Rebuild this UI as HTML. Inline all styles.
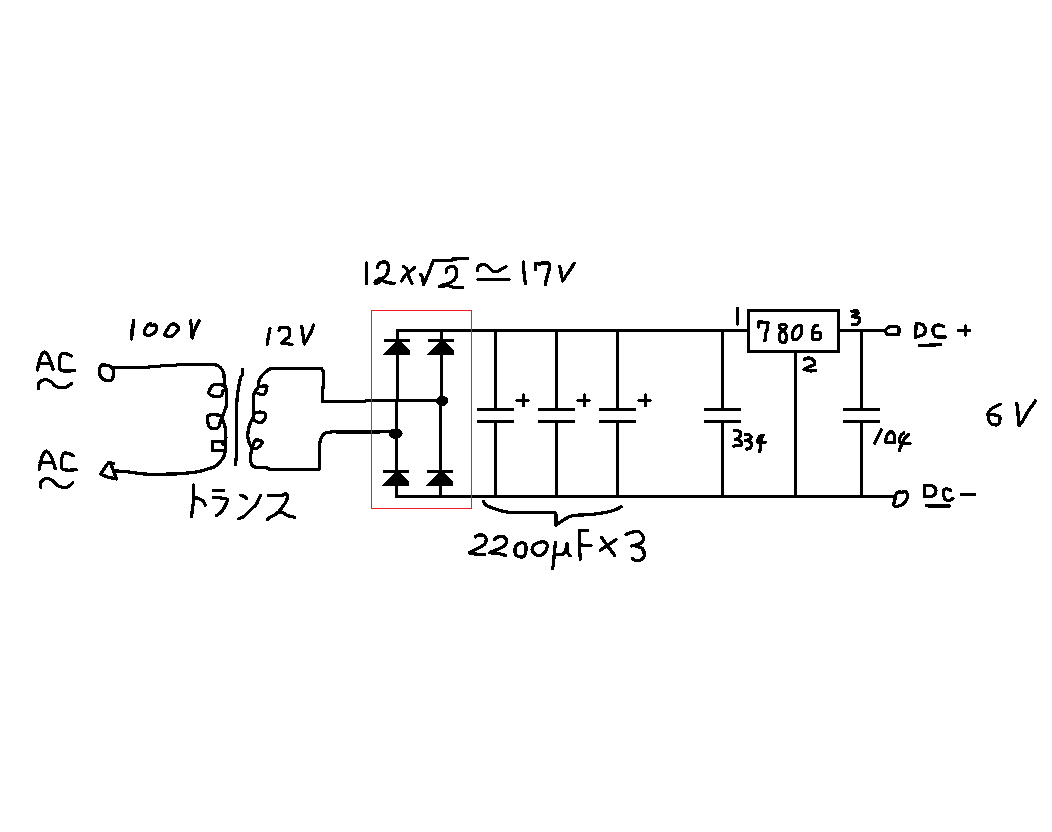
<!DOCTYPE html><html><head><meta charset="utf-8"><title>circuit</title><style>html,body{margin:0;padding:0;background:#fff;}body{width:1052px;height:832px;overflow:hidden;font-family:"Liberation Sans",sans-serif;}svg{display:block;}</style></head><body>
<svg width="1052" height="832" viewBox="0 0 1052 832" shape-rendering="crispEdges">
<rect width="1052" height="832" fill="#fff"/>
<g fill="none" stroke="#000" stroke-linecap="butt" stroke-linejoin="miter">
<path d="M397.5,340 V330.5 H747" stroke-width="3" />
<path d="M441.5,330.5 V340" stroke-width="3" />
<path d="M397.5,350 V401" stroke-width="3" />
<path d="M396.5,400 V470" stroke-width="3" />
<path d="M441.5,350 V401" stroke-width="3" />
<path d="M440.5,400 V470" stroke-width="3" />
<path d="M396.5,484 V496.5 H893" stroke-width="3" />
<path d="M440.5,484 V496.5" stroke-width="3" />
<path d="M495.5,330.5 V409.5" stroke-width="3" />
<path d="M495.5,421.5 V496.5" stroke-width="3" />
<path d="M477,409.5 H514" stroke-width="3" />
<path d="M477,421.5 H514" stroke-width="3" />
<path d="M556.5,330.5 V409.5" stroke-width="3" />
<path d="M556.5,421.5 V496.5" stroke-width="3" />
<path d="M538,409.5 H575" stroke-width="3" />
<path d="M538,421.5 H575" stroke-width="3" />
<path d="M617.5,330.5 V409.5" stroke-width="3" />
<path d="M617.5,421.5 V496.5" stroke-width="3" />
<path d="M599,409.5 H636" stroke-width="3" />
<path d="M599,421.5 H636" stroke-width="3" />
<path d="M722.5,330.5 V409.5" stroke-width="3" />
<path d="M722.5,421.5 V496.5" stroke-width="3" />
<path d="M704,409.5 H741" stroke-width="3" />
<path d="M704,421.5 H741" stroke-width="3" />
<path d="M861.5,330.5 V409.5" stroke-width="3" />
<path d="M861.5,421.5 V496.5" stroke-width="3" />
<path d="M843,409.5 H880" stroke-width="3" />
<path d="M843,421.5 H880" stroke-width="3" />
<path d="M516.7,400.5 H528.3" stroke-width="3" stroke-linecap="round"/>
<path d="M523.5,394.8 V405.5" stroke-width="3" stroke-linecap="round"/>
<path d="M577.7,400.5 H589.3" stroke-width="3" stroke-linecap="round"/>
<path d="M584.5,394.8 V405.5" stroke-width="3" stroke-linecap="round"/>
<path d="M638.7,400.5 H650.3" stroke-width="3" stroke-linecap="round"/>
<path d="M645.5,394.8 V405.5" stroke-width="3" stroke-linecap="round"/>
<path d="M748.5,310.5 H838.5 V351.5 H748.5 Z" stroke-width="3" />
<path d="M795.5,351.5 V496.5" stroke-width="3" />
<path d="M838.5,330.5 H884" stroke-width="3" />
</g>
<g stroke="#000">
<path d="M385.5,340.5 H408.5" stroke-width="3" stroke-linecap="round"/>
<path d="M396,341.6 L401.6,341.6 L410,350.5 L410,354.2 L409.2,355 L384,355 L383,354.2 Z" stroke="none" fill="#000"/>
<path d="M429.5,340.5 H452.5" stroke-width="3" stroke-linecap="round"/>
<path d="M440,341.6 L445.6,341.6 L454,350.5 L454,354.2 L453.2,355 L428,355 L427,354.2 Z" stroke="none" fill="#000"/>
<path d="M384.5,471.5 H407.5" stroke-width="3" stroke-linecap="round"/>
<path d="M395,472.6 L400.6,472.6 L409,481.5 L409,485.2 L408.2,486 L383,486 L382,485.2 Z" stroke="none" fill="#000"/>
<path d="M428.5,471.5 H451.5" stroke-width="3" stroke-linecap="round"/>
<path d="M439,472.6 L444.6,472.6 L453,481.5 L453,485.2 L452.2,486 L427,486 L426,485.2 Z" stroke="none" fill="#000"/>
<ellipse cx="442.2" cy="400.8" rx="5.6" ry="4.7" fill="#000"/>
<ellipse cx="395.6" cy="433.6" rx="6.6" ry="4.7" fill="#000"/>
</g>
<g fill="none" stroke="#000" stroke-linecap="round" stroke-linejoin="round">
<path d="M71.5,356.1 C70.8,355.8 68.9,354.4 67.3,354.0 C65.7,353.6 63.1,352.9 61.9,353.4 C60.7,353.9 60.4,355.8 60.0,357.0 C59.6,358.2 59.5,358.8 59.4,360.6 C59.3,362.4 59.1,366.2 59.4,367.8 C59.7,369.4 60.1,369.6 61.2,370.2 C62.4,370.8 63.9,371.1 66.1,371.1 C68.3,371.2 73.1,370.6 74.5,370.5" stroke-width="3.3"/>
<path d="M38.4,388.2 C38.5,387.4 38.1,384.8 38.7,383.5 C39.3,382.2 40.5,381.0 42.0,380.4 C43.5,379.8 45.8,379.6 47.4,379.9 C49.0,380.2 50.3,381.2 51.6,382.2 C52.9,383.2 53.8,385.0 55.2,385.9 C56.6,386.8 58.2,387.5 60.0,387.7 C61.8,387.9 64.2,388.0 66.1,387.3 C68.0,386.6 70.4,384.2 71.3,383.6" stroke-width="3.3"/>
<path d="M73.2,455.6 C72.5,455.3 70.6,454.0 69.1,453.6 C67.6,453.2 65.1,452.8 64.0,453.2 C62.9,453.6 62.7,455.0 62.3,456.2 C61.9,457.4 61.6,458.8 61.5,460.6 C61.4,462.4 61.2,465.5 61.5,467.0 C61.8,468.5 61.9,468.9 63.2,469.4 C64.5,469.9 66.9,470.2 69.1,470.2 C71.3,470.2 75.0,469.7 76.2,469.6" stroke-width="3.3"/>
<path d="M40.7,487.2 C40.6,486.6 39.9,484.6 40.3,483.4 C40.6,482.2 42.0,480.8 42.8,480.0 C43.6,479.2 44.1,479.0 45.2,478.8 C46.3,478.6 47.9,478.4 49.2,478.8 C50.5,479.2 52.0,480.1 53.2,481.0 C54.4,481.9 55.1,483.5 56.4,484.5 C57.7,485.5 59.4,486.6 61.2,487.0 C63.1,487.4 65.7,487.7 67.6,487.0 C69.5,486.3 72.0,483.5 72.9,482.8" stroke-width="3.3"/>
<path d="M103.3,365.1 C104.2,365.1 105.9,365.1 107.1,365.3 C108.2,365.5 109.2,365.7 110.2,366.4 C111.2,367.1 112.7,368.3 113.2,369.4 C113.7,370.5 113.5,371.9 113.4,373.2 C113.3,374.6 113.2,376.7 112.8,377.8 C112.4,378.9 112.2,379.7 111.3,380.1 C110.3,380.5 108.4,380.4 107.1,380.3 C105.8,380.2 104.4,379.9 103.3,379.3 C102.2,378.7 101.2,377.8 100.6,376.7 C100.0,375.6 99.7,374.2 99.5,372.9 C99.3,371.6 99.4,370.0 99.7,368.7 C100.0,367.4 100.8,365.9 101.4,365.3 C102.0,364.7 102.3,365.1 103.3,365.1 Z" stroke-width="3.3"/>
<path d="M205.0,364.5 C206.4,364.5 211.2,364.2 213.5,364.5 C215.8,364.8 217.4,365.4 218.8,366.3 C220.2,367.2 221.2,368.5 222.0,369.7 C222.8,370.9 223.4,372.2 223.8,373.7 C224.2,375.2 224.1,377.2 224.2,378.8 C224.3,380.4 224.3,381.8 224.5,383.1 C224.7,384.4 224.9,385.5 225.2,386.7 C225.6,387.9 226.1,388.7 226.3,390.3 C226.5,391.9 226.6,393.9 226.6,396.1 C226.6,398.3 226.4,401.5 226.3,403.3 C226.2,405.1 226.3,405.7 226.0,406.9 C225.7,408.1 224.9,409.2 224.5,410.5 C224.1,411.8 223.8,413.5 223.4,414.7 C223.0,415.9 222.3,416.6 222.3,417.8 C222.3,419.0 223.0,420.1 223.4,421.7 C223.8,423.3 224.6,425.2 225.0,427.2 C225.4,429.1 225.7,431.1 225.8,433.4 C225.9,435.7 225.9,438.6 225.8,441.2 C225.7,443.9 225.6,446.8 225.4,449.0 C225.2,451.2 225.1,452.9 224.6,454.5 C224.1,456.1 223.7,457.0 222.7,458.4 C221.7,459.8 220.1,461.7 218.8,463.1 C217.4,464.5 216.6,465.6 214.8,466.6 C213.0,467.6 210.3,468.2 207.8,469.0 C205.3,469.8 203.0,470.7 200.0,471.3 C197.0,471.9 194.2,472.4 190.0,472.8 C185.8,473.2 179.8,473.8 174.5,474.0 C169.2,474.2 163.1,474.2 158.0,474.2 C152.9,474.2 149.3,474.4 144.0,474.0 C138.7,473.6 130.9,472.1 126.0,471.6 C121.1,471.1 116.7,471.1 114.8,471.0" stroke-width="3.3"/>
<path d="M224.2,386.5 C224.1,386.3 225.7,385.3 223.8,385.1 C221.9,384.9 215.4,384.2 213.0,385.1 C210.6,386.0 210.1,389.3 209.4,390.5 C208.7,391.7 208.6,391.8 208.7,392.5 C208.8,393.2 209.3,394.0 210.1,394.6 C210.9,395.2 211.6,395.9 213.3,396.1 C215.1,396.4 219.1,396.5 220.6,396.1 C222.1,395.7 222.0,394.9 222.4,393.9 C222.8,392.9 223.0,390.9 223.1,390.3" stroke-width="3.3"/>
<path d="M221.9,417.4 C221.9,417.1 224.1,415.8 221.9,415.5 C219.7,415.2 210.9,414.1 208.6,415.5 C206.3,416.9 207.8,422.0 208.2,424.1 C208.6,426.2 209.5,427.3 210.9,428.0 C212.3,428.7 215.0,428.7 216.4,428.4 C217.8,428.1 218.4,427.5 219.1,426.4 C219.8,425.3 219.8,423.2 220.3,421.7 C220.8,420.2 221.6,418.1 221.9,417.4" stroke-width="3.3"/>
<path d="M242.6,369.4 C242.6,370.2 243.0,372.7 242.6,374.1 C242.2,375.5 240.9,376.4 240.4,378.0 C239.9,379.6 239.7,381.8 239.3,383.8 C238.9,385.9 238.5,388.0 238.2,390.3 C237.8,392.6 237.5,394.5 237.2,397.5 C236.9,400.5 236.7,404.6 236.6,408.3 C236.5,412.1 236.6,415.8 236.5,420.0 C236.4,424.2 236.3,427.2 236.3,433.4 C236.3,439.5 236.5,451.7 236.3,456.9 C236.1,462.1 235.4,463.4 235.2,464.7" stroke-width="3.3"/>
<path d="M340.0,401.2 L322.4,401.2" stroke-width="3"/>
<path d="M280.0,368.5 C278.6,368.5 273.8,368.2 271.7,368.5 C269.6,368.8 268.8,369.5 267.4,370.5 C266.0,371.5 264.3,373.1 263.1,374.4 C261.9,375.6 260.9,376.8 260.2,378.0 C259.5,379.2 259.1,380.2 258.8,381.6 C258.4,383.1 258.9,385.2 258.4,386.7 C257.9,388.1 256.6,389.1 255.9,390.3 C255.2,391.5 254.5,392.6 254.1,393.9 C253.7,395.2 253.4,396.4 253.3,398.2 C253.2,400.0 253.3,402.2 253.3,404.7 C253.3,407.2 253.6,411.2 253.5,413.4 C253.4,415.5 253.4,416.2 253.0,417.6 C252.6,419.0 251.7,419.8 250.9,421.8 C250.1,423.8 248.9,426.6 248.4,429.4 C247.9,432.2 247.7,436.2 248.0,438.7 C248.3,441.2 249.5,442.9 250.1,444.6 C250.7,446.2 251.7,447.0 251.8,448.8 C251.9,450.6 250.7,453.3 250.5,455.5 C250.3,457.7 250.3,460.3 250.9,462.2 C251.5,464.1 251.9,466.0 254.3,466.9 C256.7,467.7 262.4,466.9 265.2,467.3 C268.0,467.7 267.0,469.1 271.1,469.4 C275.2,469.7 285.2,469.3 290.0,469.3 C294.8,469.3 298.3,469.3 300.0,469.3" stroke-width="3.3"/>
<path d="M319.4,446.0 C319.4,445.7 319.1,445.7 319.4,444.3 C319.7,442.9 320.5,439.2 321.4,437.4 C322.3,435.6 323.2,434.2 324.9,433.3 C326.6,432.4 329.3,432.1 331.8,431.9 C334.3,431.7 338.6,432.0 340.0,432.0" stroke-width="3.3"/>
<path d="M258.4,386.5 C259.7,386.4 264.6,385.8 266.0,386.0 C267.4,386.2 266.9,386.5 266.7,387.8 C266.5,389.1 265.9,392.8 264.9,393.9 C263.9,395.0 262.0,394.7 260.9,394.6 C259.8,394.5 258.5,393.4 258.0,393.2" stroke-width="3.3"/>
<path d="M253.9,413.4 C254.5,413.2 256.0,412.3 257.7,412.2 C259.4,412.1 262.7,412.0 264.0,412.6 C265.3,413.2 265.6,414.8 265.7,416.0 C265.8,417.2 265.2,418.6 264.4,419.7 C263.6,420.8 262.3,422.3 261.0,422.7 C259.7,423.1 258.1,422.3 256.8,421.8 C255.6,421.3 254.1,420.1 253.5,419.7" stroke-width="3.3"/>
<path d="M251.8,447.9 C252.3,446.8 253.9,442.5 254.7,441.2 C255.5,439.9 255.7,439.9 256.8,439.9 C257.9,439.9 260.7,440.5 261.5,441.2 C262.3,441.9 262.3,442.9 261.5,444.1 C260.7,445.3 258.3,447.6 256.8,448.3 C255.3,449.0 253.3,448.3 252.6,448.3" stroke-width="3.3"/>
<path d="M150.5,323.5 C151.2,323.4 150.7,325.1 151.6,325.4 C152.5,325.6 154.8,324.6 155.7,325.0 C156.6,325.4 156.8,326.6 156.8,327.6 C156.8,328.7 156.5,330.1 155.7,331.3 C154.9,332.5 153.3,333.9 151.9,334.6 C150.5,335.3 148.7,335.6 147.5,335.4 C146.3,335.2 144.9,334.1 144.5,333.2 C144.1,332.3 144.4,331.1 144.9,329.8 C145.4,328.6 146.6,326.8 147.5,325.7 C148.4,324.6 149.8,323.6 150.5,323.5 Z" stroke-width="3.3"/>
<path d="M167.5,329.1 C168.2,328.1 169.3,325.8 170.5,325.0 C171.7,324.2 173.6,323.8 174.9,324.3 C176.2,324.9 178.5,326.9 178.6,328.3 C178.7,329.7 176.8,331.5 175.7,332.8 C174.6,334.1 173.4,335.6 172.0,336.1 C170.6,336.7 168.8,336.3 167.5,336.1 C166.2,335.9 164.8,335.8 164.5,335.0 C164.2,334.2 165.5,332.3 166.0,331.3 C166.5,330.3 166.8,330.2 167.5,329.1 Z" stroke-width="3.3"/>
<path d="M279.0,330.5 C279.2,330.1 279.5,328.3 280.4,327.8 C281.3,327.3 283.1,327.3 284.4,327.3 C285.7,327.3 287.2,327.4 288.1,327.9 C289.0,328.4 289.5,329.1 289.7,330.5 C289.9,331.9 290.1,334.7 289.4,336.2 C288.7,337.7 286.7,338.4 285.4,339.6 C284.1,340.8 281.1,342.6 281.4,343.2 C281.7,343.8 285.6,343.1 287.0,343.3 C288.4,343.5 288.9,344.0 289.7,344.2 C290.5,344.4 291.6,344.3 292.0,344.3" stroke-width="3.3"/>
<path d="M194.6,498.2 C195.1,498.2 196.3,497.8 197.6,498.2 C198.9,498.6 201.1,499.8 202.2,500.5 C203.3,501.2 203.7,501.9 204.2,502.7 C204.7,503.5 205.2,504.8 205.4,505.2" stroke-width="3.3"/>
<path d="M213.3,497.7 C214.4,497.6 218.5,497.3 219.8,497.4 C221.2,497.5 220.3,498.2 221.4,498.4 C222.5,498.6 225.4,498.4 226.4,498.7 C227.4,499.0 227.4,499.4 227.4,500.2 C227.4,500.9 226.9,502.0 226.4,503.2 C225.9,504.4 225.1,506.1 224.4,507.3 C223.7,508.5 223.2,509.2 222.4,510.3 C221.6,511.4 220.3,512.7 219.3,513.6 C218.3,514.5 216.8,515.3 216.3,515.6" stroke-width="3.3"/>
<path d="M240.7,495.2 C241.1,495.3 242.5,495.8 243.2,496.0 C243.8,496.2 244.0,496.2 244.6,496.7 C245.2,497.1 246.2,498.4 246.5,498.7" stroke-width="3.3"/>
<path d="M260.5,495.6 C260.3,496.1 259.8,497.1 259.1,498.5 C258.4,499.9 257.2,502.6 256.5,503.9 C255.8,505.1 255.7,505.0 254.7,506.0 C253.7,507.0 251.9,508.6 250.4,510.0 C248.9,511.4 246.9,513.6 245.7,514.7 C244.5,515.9 244.1,516.4 243.2,516.9 C242.3,517.4 241.0,517.7 240.3,518.0 C239.6,518.3 239.1,518.6 238.9,518.7" stroke-width="3.3"/>
<path d="M268.3,495.4 C269.4,495.4 272.5,495.4 275.0,495.4 C277.5,495.3 281.6,495.3 283.2,495.1 C284.8,494.9 283.9,494.2 284.5,494.1 C285.1,494.0 286.6,494.0 287.1,494.3 C287.7,494.6 287.8,495.4 287.8,496.2 C287.8,496.9 287.5,497.7 287.1,498.8 C286.7,499.9 286.0,501.6 285.4,502.7 C284.8,503.8 284.0,504.5 283.2,505.7 C282.4,506.9 281.5,508.4 280.6,509.6 C279.7,510.8 278.7,511.8 277.6,512.7 C276.5,513.7 275.2,514.6 274.1,515.3 C273.0,516.0 271.8,516.3 270.7,517.0 C269.6,517.7 267.9,519.0 267.4,519.4" stroke-width="3.3"/>
<path d="M280.2,512.2 C280.8,512.4 282.3,512.5 283.6,513.1 C284.9,513.7 286.6,515.1 288.0,515.7 C289.4,516.3 291.2,516.3 292.3,516.6 C293.4,516.9 294.5,517.5 294.9,517.7" stroke-width="3.3"/>
<path d="M377.4,267.4 C377.6,266.8 378.1,264.9 378.8,264.0 C379.5,263.1 380.5,262.6 381.7,262.3 C382.9,262.0 385.1,261.9 386.2,262.3 C387.2,262.7 387.7,263.5 388.0,264.6 C388.3,265.7 388.3,267.7 388.2,269.1 C388.1,270.5 387.9,271.9 387.4,273.1 C386.9,274.3 386.0,275.6 385.1,276.5 C384.2,277.4 383.1,277.8 382.2,278.2 C381.2,278.6 380.4,278.3 379.4,278.8 C378.4,279.3 376.7,280.4 376.0,281.1 C375.3,281.8 374.7,282.8 375.1,283.1 C375.5,283.4 377.2,283.2 378.3,282.8 C379.4,282.4 380.6,280.7 381.7,280.5 C382.8,280.3 384.0,281.3 385.1,281.7 C386.2,282.1 387.0,282.5 388.5,282.8 C390.0,283.1 393.2,283.3 394.2,283.4" stroke-width="3.3"/>
<path d="M403.4,266.3 C404.0,266.8 406.1,268.0 406.8,269.1 C407.6,270.2 407.4,271.5 407.9,273.1 C408.4,274.7 408.9,277.1 409.6,278.8 C410.3,280.5 411.5,282.5 411.9,283.2" stroke-width="3.3"/>
<path d="M414.5,267.4 C414.0,267.9 412.3,269.4 411.3,270.3 C410.3,271.2 409.5,271.6 408.5,272.5 C407.5,273.4 406.2,274.0 405.1,275.4 C404.0,276.8 402.2,280.2 401.6,281.1" stroke-width="3.3"/>
<path d="M446.1,272.3 C446.2,271.6 446.3,269.2 447.0,268.3 C447.7,267.4 449.2,267.0 450.4,266.8 C451.6,266.6 453.4,266.5 454.4,267.1 C455.4,267.7 456.3,269.0 456.6,270.5 C456.9,272.0 456.9,274.6 456.4,276.2 C455.9,277.8 455.0,279.0 453.8,280.2 C452.6,281.4 450.9,282.3 449.2,283.1 C447.5,283.9 445.1,284.2 443.5,284.8 C441.9,285.4 439.3,286.3 439.5,286.5 C439.7,286.7 443.1,286.0 444.7,285.9 C446.3,285.8 447.7,285.6 449.2,285.9 C450.7,286.1 451.6,287.1 453.8,287.4 C456.0,287.6 460.9,287.4 462.3,287.4" stroke-width="3.3"/>
<path d="M477.4,270.3 C477.5,269.8 477.5,268.3 478.0,267.4 C478.5,266.5 479.0,265.5 480.3,265.1 C481.6,264.7 484.6,264.7 486.0,265.1 C487.4,265.5 487.7,266.4 488.8,267.4 C489.9,268.4 491.3,270.5 492.8,271.1 C494.3,271.7 496.6,271.4 498.0,271.1 C499.4,270.8 500.1,269.9 501.4,269.1 C502.7,268.4 505.2,267.0 506.0,266.6" stroke-width="3.3"/>
<path d="M483.7,501.6 C483.9,502.1 483.7,503.3 485.1,504.4 C486.5,505.5 488.7,506.7 492.3,508.0 C495.9,509.3 501.3,511.2 506.5,512.0 C511.7,512.8 518.0,512.6 523.6,512.7 C529.2,512.8 534.8,512.7 540.0,512.7 C545.2,512.7 552.5,512.7 555.0,512.7" stroke-width="3.3"/>
<path d="M556.1,525.1 C557.4,524.3 560.9,521.7 563.6,520.1 C566.3,518.5 567.4,516.8 572.1,515.8 C576.8,514.8 586.3,515.0 592.0,514.4 C597.7,513.8 602.2,513.1 606.3,512.3 C610.3,511.5 613.8,510.3 616.3,509.4 C618.8,508.4 620.5,507.1 621.3,506.6" stroke-width="3.3"/>
<path d="M475.3,536.9 C475.9,536.6 477.7,535.2 479.1,535.0 C480.5,534.8 482.7,534.8 483.9,535.5 C485.1,536.2 486.0,537.9 486.2,539.3 C486.4,540.7 486.0,542.6 484.8,544.0 C483.6,545.4 481.2,546.6 479.1,547.8 C477.1,549.0 474.1,550.2 472.5,551.1 C470.9,552.0 469.0,552.7 469.5,553.2 C470.0,553.7 472.8,553.8 475.3,554.0 C477.9,554.2 483.2,554.6 484.8,554.7" stroke-width="3.3"/>
<path d="M494.3,539.7 C494.9,539.2 496.5,537.4 498.1,536.9 C499.7,536.4 502.4,536.3 503.8,536.9 C505.2,537.5 506.5,539.3 506.7,540.7 C506.9,542.1 506.2,544.0 504.8,545.4 C503.4,546.8 500.6,548.0 498.1,549.2 C495.6,550.4 489.6,551.9 489.6,552.6 C489.6,553.3 495.4,553.0 498.1,553.5 C500.8,554.0 504.4,555.1 505.7,555.4" stroke-width="3.3"/>
<path d="M519.2,543.4 C520.2,543.2 522.4,542.3 523.5,542.8 C524.6,543.3 525.6,544.6 525.9,546.3 C526.2,548.0 525.9,551.3 525.5,553.0 C525.1,554.7 524.7,556.0 523.5,556.6 C522.3,557.2 519.6,556.9 518.3,556.5 C516.9,556.1 515.9,555.4 515.4,554.0 C514.9,552.6 514.8,549.6 515.1,548.0 C515.5,546.4 516.8,545.0 517.5,544.2 C518.2,543.4 518.2,543.6 519.2,543.4 Z" stroke-width="3.3"/>
<path d="M534.8,544.5 C536.2,543.5 538.9,542.3 540.8,542.0 C542.7,541.7 544.9,541.9 546.0,542.7 C547.1,543.6 547.4,545.5 547.2,547.1 C547.0,548.7 545.9,550.9 545.0,552.2 C544.1,553.5 542.9,554.5 541.6,555.1 C540.3,555.7 538.8,556.1 537.4,555.6 C536.0,555.1 533.9,553.5 533.0,552.2 C532.1,550.9 531.9,549.2 532.2,547.9 C532.5,546.6 533.4,545.5 534.8,544.5 Z" stroke-width="3.3"/>
<path d="M554.9,554.3 C555.7,554.4 558.0,555.0 559.6,554.8 C561.2,554.6 563.2,554.5 564.3,553.2 C565.4,551.9 565.9,548.6 566.4,547.0 C566.9,545.4 566.9,543.9 567.0,543.3" stroke-width="3.3"/>
<path d="M567.0,543.3 C567.1,544.8 567.0,550.1 567.5,552.2 C568.0,554.3 569.7,555.2 570.1,555.8" stroke-width="3.3"/>
<path d="M626.0,534.4 C627.0,534.0 629.8,532.8 631.8,532.3 C633.8,531.8 636.4,530.9 638.1,531.3 C639.8,531.7 641.3,533.5 642.2,534.9 C643.1,536.3 643.5,538.2 643.3,539.6 C643.0,541.0 642.6,542.2 640.7,543.3 C638.8,544.3 633.3,545.5 631.8,545.9" stroke-width="3.3"/>
<path d="M636.5,546.4 C637.5,546.8 640.9,547.0 642.2,548.5 C643.5,550.0 644.4,553.5 644.3,555.3 C644.2,557.1 643.1,558.6 641.7,559.5 C640.3,560.4 637.6,560.8 636.0,560.6 C634.4,560.4 632.9,558.7 632.3,558.3" stroke-width="3.3"/>
<path d="M851.9,311.3 C852.2,311.2 853.1,311.1 854.0,311.0 C854.9,310.9 856.6,310.8 857.3,311.0 C857.9,311.2 857.8,311.7 857.9,312.2 C858.0,312.7 858.0,313.6 857.6,314.0 C857.2,314.4 856.1,314.2 855.2,314.6 C854.3,315.0 852.7,316.1 852.2,316.4" stroke-width="3.3"/>
<path d="M852.2,316.4 C852.7,316.5 853.8,316.8 854.9,317.0 C856.0,317.2 858.0,317.1 858.8,317.6 C859.6,318.1 859.7,319.3 859.7,320.0 C859.8,320.7 859.6,321.1 859.1,321.8 C858.6,322.6 857.9,324.1 856.7,324.5 C855.6,324.9 853.0,324.5 852.2,324.5" stroke-width="3.3"/>
<path d="M804.1,359.5 C804.5,359.3 805.7,358.5 806.7,358.3 C807.7,358.1 809.1,357.9 810.1,358.2 C811.1,358.4 812.2,359.0 813.0,359.8 C813.8,360.6 814.7,362.2 814.7,363.2 C814.7,364.2 813.9,365.1 813.0,365.6 C812.1,366.1 810.6,366.0 809.5,366.4 C808.4,366.8 807.3,367.7 806.4,368.2 C805.5,368.7 803.9,369.3 804.1,369.6 C804.3,369.9 806.5,369.8 807.5,370.0 C808.5,370.2 809.0,370.8 810.4,370.9 C811.8,371.0 815.0,370.6 815.9,370.5" stroke-width="3.3"/>
<path d="M782.5,329.6 C782.0,329.4 780.1,328.9 779.6,328.2 C779.1,327.5 779.1,326.1 779.4,325.5 C779.7,324.9 780.6,324.8 781.5,324.6 C782.4,324.5 784.2,324.4 785.0,324.6 C785.8,324.8 786.3,325.3 786.3,326.0 C786.3,326.7 785.8,328.1 785.2,328.8 C784.6,329.6 783.4,329.7 782.5,330.5 C781.6,331.3 780.5,332.3 780.0,333.5 C779.5,334.7 779.4,336.2 779.4,337.5 C779.4,338.8 779.7,340.2 780.2,341.0 C780.7,341.8 781.7,342.1 782.5,342.3 C783.3,342.5 784.4,342.6 785.0,342.0 C785.6,341.4 786.1,340.2 786.3,339.0 C786.5,337.8 786.4,335.8 786.0,334.5 C785.6,333.2 784.6,331.8 784.0,331.0 C783.4,330.2 782.8,329.8 782.5,329.6" stroke-width="3.3"/>
<path d="M801.4,325.8 C801.6,326.6 801.7,328.6 801.6,330.0 C801.5,331.4 801.5,333.2 801.0,334.5 C800.5,335.8 799.7,337.1 798.8,338.0 C797.9,338.9 796.5,339.6 795.5,339.7 C794.5,339.8 793.5,339.7 793.0,338.8 C792.5,337.9 792.6,335.8 792.6,334.5 C792.6,333.2 792.8,331.9 793.2,330.8 C793.6,329.7 794.4,328.9 795.2,328.0 C796.0,327.1 797.4,326.1 798.2,325.6 C799.1,325.1 799.8,325.2 800.3,325.2 C800.8,325.2 801.2,325.0 801.4,325.8 Z" stroke-width="3.3"/>
<path d="M817.9,325.6 C817.4,325.7 815.5,325.4 814.7,326.0 C813.9,326.6 813.4,328.1 813.0,329.5 C812.6,330.9 812.6,333.0 812.5,334.5 C812.4,336.0 812.4,337.7 812.6,338.5 C812.9,339.3 812.9,339.3 814.0,339.4 C815.1,339.5 817.9,339.5 819.0,339.2 C820.1,338.9 820.1,338.3 820.4,337.4 C820.7,336.4 820.8,334.3 820.6,333.5 C820.4,332.7 820.5,332.6 819.4,332.4 C818.3,332.2 815.1,332.3 814.0,332.4 C812.9,332.5 812.9,333.0 812.7,333.1" stroke-width="3.3"/>
<path d="M734.6,430.5 C735.4,430.6 738.4,430.8 739.4,431.3 C740.4,431.8 740.5,432.7 740.6,433.5 C740.7,434.3 740.3,435.5 739.9,436.3 C739.5,437.1 738.8,438.0 738.0,438.5 C737.2,439.0 735.8,439.3 735.3,439.5" stroke-width="3.3"/>
<path d="M735.3,439.5 C735.9,439.6 738.0,439.6 739.0,440.0 C740.0,440.4 740.7,441.3 741.1,442.1 C741.5,442.9 741.6,444.4 741.3,445.0 C741.0,445.6 740.3,445.6 739.4,445.7 C738.5,445.8 737.0,445.4 736.1,445.5 C735.2,445.6 734.3,446.1 733.9,446.2" stroke-width="3.3"/>
<path d="M745.7,434.4 C746.2,434.4 748.1,434.3 749.0,434.7 C749.9,435.1 750.7,436.0 751.0,436.6 C751.3,437.2 751.1,438.0 750.7,438.5 C750.3,439.0 749.7,439.4 748.8,439.7 C747.9,440.0 746.0,440.3 745.4,440.4" stroke-width="3.3"/>
<path d="M745.4,440.4 C746.0,440.5 748.1,440.8 749.0,441.2 C749.9,441.6 750.6,442.2 751.0,443.1 C751.4,444.0 751.5,445.5 751.2,446.4 C751.0,447.3 750.3,447.9 749.5,448.4 C748.7,448.8 747.1,449.0 746.6,449.1" stroke-width="3.3"/>
<path d="M757.7,441.2 C757.9,440.6 758.2,438.7 758.6,437.8 C759.1,436.9 759.9,436.3 760.6,435.9 C761.3,435.5 762.6,435.4 763.0,435.3" stroke-width="3.3"/>
<path d="M763.0,435.3 C762.8,435.7 762.4,436.8 762.0,437.8 C761.6,438.8 761.0,439.8 760.8,441.2 C760.6,442.6 760.9,445.1 760.8,446.4 C760.7,447.7 760.5,447.9 760.3,448.8 C760.1,449.7 759.8,451.3 759.7,451.8" stroke-width="3.3"/>
<path d="M886.6,435.9 C887.2,435.0 889.0,432.6 890.0,432.0 C891.0,431.4 891.9,431.7 892.6,432.3 C893.3,432.9 894.0,433.8 894.3,435.4 C894.6,436.9 894.4,440.4 894.3,441.6 C894.1,442.8 894.8,442.5 893.4,442.6 C892.0,442.7 887.4,443.3 886.2,442.4 C885.0,441.5 886.3,438.4 886.4,437.3 C886.5,436.2 886.0,436.8 886.6,435.9 Z" stroke-width="3.3"/>
<path d="M903.9,433.0 C903.4,433.5 901.3,434.5 900.6,435.9 C899.9,437.3 899.5,440.5 899.6,441.6 C899.7,442.7 900.9,442.4 901.1,442.6" stroke-width="3.3"/>
<path d="M908.5,434.4 C907.9,435.0 906.0,436.8 904.9,438.3 C903.8,439.8 903.0,441.5 902.0,443.6 C901.0,445.7 899.6,449.6 899.1,450.8" stroke-width="3.3"/>
<path d="M885.4,330.5 C885.6,329.9 886.5,328.7 887.3,328.1 C888.1,327.5 888.7,326.9 890.4,326.7 C892.1,326.5 895.9,326.4 897.4,326.9 C898.9,327.4 899.0,328.5 899.1,329.8 C899.2,331.1 899.0,333.7 898.3,334.5 C897.6,335.3 896.6,334.6 894.8,334.6 C893.0,334.6 889.1,334.9 887.6,334.4 C886.1,333.9 886.2,332.4 885.8,331.8 C885.4,331.2 885.1,331.1 885.4,330.5 Z" stroke-width="3.3"/>
<path d="M917.0,323.5 C917.6,323.6 919.4,323.6 920.5,323.9 C921.6,324.2 922.7,324.6 923.5,325.5 C924.3,326.4 925.4,328.2 925.5,329.6 C925.6,331.0 924.7,333.0 924.0,334.0 C923.3,335.0 922.5,335.0 921.5,335.4 C920.5,335.8 918.8,336.2 918.2,336.4" stroke-width="3.3"/>
<path d="M943.5,326.5 C942.7,326.2 940.3,324.9 938.8,324.9 C937.2,324.9 935.2,325.4 934.2,326.5 C933.2,327.6 932.8,330.1 933.0,331.7 C933.2,333.3 934.4,335.4 935.5,336.3 C936.6,337.2 938.1,336.9 939.8,337.0 C941.5,337.1 944.5,337.0 945.5,337.0" stroke-width="3.3"/>
<path d="M919.4,345.6 C920.8,345.5 924.9,345.3 928.0,345.2 C931.1,345.1 935.7,344.9 937.8,344.8 C939.9,344.7 940.1,344.5 940.6,344.4" stroke-width="3.3"/>
<path d="M894.9,496.2 C895.4,495.1 896.8,493.0 897.9,492.3 C899.0,491.6 900.4,492.2 901.8,492.2 C903.2,492.2 905.4,491.3 906.3,492.1 C907.2,492.9 907.5,495.6 907.4,497.1 C907.3,498.6 906.6,499.9 905.5,501.3 C904.4,502.7 902.8,504.6 900.9,505.3 C899.0,506.0 895.1,506.8 894.1,505.7 C893.1,504.6 894.9,500.4 895.0,498.8 C895.1,497.2 894.4,497.3 894.9,496.2 Z" stroke-width="3.3"/>
<path d="M925.5,485.5 C926.6,485.6 930.4,485.5 932.0,485.9 C933.6,486.3 934.6,486.8 935.2,488.0 C935.8,489.2 936.0,491.9 935.5,493.3 C935.0,494.7 933.7,495.8 932.0,496.3 C930.3,496.8 926.6,496.3 925.5,496.3" stroke-width="3.3"/>
<path d="M950.5,490.3 C949.9,490.1 948.0,488.9 946.9,488.8 C945.8,488.8 944.5,488.9 944.0,490.0 C943.5,491.1 943.3,493.9 943.6,495.5 C943.9,497.1 944.6,498.8 945.6,499.6 C946.6,500.4 948.2,500.7 949.4,500.5 C950.6,500.3 952.4,498.8 953.0,498.5" stroke-width="3.3"/>
<path d="M926.3,505.2 C926.8,505.3 926.9,505.9 929.2,506.0 C931.5,506.1 936.6,506.0 940.0,506.0 C943.4,506.0 948.2,506.0 949.8,506.0" stroke-width="3.3"/>
<path d="M1000.3,404.3 C999.4,404.7 996.5,405.8 995.0,406.6 C993.5,407.4 992.1,408.3 991.0,409.3 C989.9,410.3 989.1,411.2 988.6,412.6 C988.1,414.1 988.1,416.3 988.3,418.0 C988.5,419.7 989.2,421.5 990.0,422.6 C990.8,423.7 992.0,424.3 993.3,424.6 C994.6,424.9 997.0,425.2 998.0,424.6 C999.0,424.1 999.3,422.5 999.6,421.3 C999.9,420.1 1000.4,418.2 1000.0,417.3 C999.6,416.4 998.6,416.1 997.3,415.6 C996.0,415.2 994.0,414.8 992.3,414.6 C990.6,414.4 988.1,414.6 987.3,414.6" stroke-width="3.3"/>
<path d="M1016.4,403.6 C1016.6,404.2 1017.3,405.1 1017.6,407.3 C1017.9,409.5 1017.9,413.6 1018.2,416.6 C1018.5,419.6 1019.0,423.9 1019.2,425.4" stroke-width="3.3"/>
<path d="M1019.2,425.4 C1019.8,424.6 1021.5,423.0 1022.9,420.8 C1024.3,418.6 1025.9,414.7 1027.6,412.0 C1029.3,409.3 1031.6,406.4 1032.9,404.6 C1034.2,402.8 1034.8,401.6 1035.2,401.0" stroke-width="3.3"/>
<path d="M37.5,370.0 L38.4,364.8 L40.2,358.2 L42.0,353.8 L44.4,352.0 L46.2,352.5 L48.0,355.4 L50.4,361.2 L53.1,369.4" stroke-width="3.3"/>
<path d="M38.4,363.6 L49.8,363.6" stroke-width="3.3"/>
<path d="M39.3,469.3 L40.2,463.6 L42.0,457.0 L44.1,452.6 L46.2,451.1 L48.4,452.5 L50.7,455.6 L52.8,460.6 L55.2,468.7" stroke-width="3.3"/>
<path d="M39.9,462.4 L52.2,462.4" stroke-width="3.3"/>
<path d="M113.6,463.6 L108.5,462.6 L100.5,474.2 L108.0,477.2 L116.6,478.9 L111.0,464.6" stroke-width="3.3"/>
<path d="M111.5,367.3 L148.7,367.3 L150.0,366.2 L160.0,366.2 L161.5,365.3 L176.0,365.3 L177.0,364.5 L205.0,364.5" stroke-width="3.3"/>
<path d="M223.0,444.4 L222.7,441.6 L212.5,441.6 L212.5,450.6 L224.2,450.6" stroke-width="3.3"/>
<path d="M340.0,401.2 L322.4,401.2 L322.4,387.7 L323.5,387.7 L323.5,372.0 L321.5,368.6 L300.0,368.5 L271.7,368.5" stroke-width="3.3"/>
<path d="M290.0,469.3 L319.4,469.2 L319.4,444.3" stroke-width="3.3"/>
<path d="M338.0,401.2 L365.0,401.2 L366.0,400.5 L442.0,400.5" stroke-width="3.3"/>
<path d="M338.0,432.0 L379.0,432.0 L380.0,431.5 L396.0,431.5" stroke-width="3.3"/>
<path d="M133.4,320.3 L133.0,326.9 L131.9,329.8 L131.9,335.8 L131.4,339.0" stroke-width="3.3"/>
<path d="M190.5,320.8 L191.2,324.6 L192.0,332.0 L192.1,338.0" stroke-width="3.3"/>
<path d="M199.2,320.8 L195.7,327.6 L193.5,332.8 L192.3,338.0" stroke-width="3.3"/>
<path d="M270.0,328.6 L268.5,336.0 L267.1,344.2" stroke-width="3.3"/>
<path d="M301.4,326.3 L302.4,328.9 L303.0,335.3 L304.3,344.0" stroke-width="3.3"/>
<path d="M304.3,344.0 L307.8,338.0 L311.5,331.0 L313.6,324.9" stroke-width="3.3"/>
<path d="M193.6,485.1 L193.6,504.2 L192.6,505.2 L192.1,512.3 L191.6,516.4" stroke-width="3.3"/>
<path d="M213.3,490.6 L223.6,490.6" stroke-width="3.3"/>
<path d="M366.6,263.0 L366.5,283.4" stroke-width="3.3"/>
<path d="M420.4,274.5 L422.4,276.8 L423.6,284.2 L426.4,278.0 L429.8,270.0 L432.7,262.0 L433.8,260.4 L451.5,260.4 L452.6,259.1 L462.3,258.6 L467.3,258.6" stroke-width="3.3"/>
<path d="M478.0,279.4 L509.0,279.4" stroke-width="3.3"/>
<path d="M523.3,262.0 L523.6,269.1 L524.8,280.0 L525.4,283.8" stroke-width="3.3"/>
<path d="M535.5,269.5 L535.5,263.6 L540.5,264.1 L541.4,263.1 L549.0,263.1 L549.5,265.5 L549.0,270.3 L547.6,275.0 L546.2,279.8 L545.4,284.6" stroke-width="3.3"/>
<path d="M559.5,266.2 L560.4,268.4 L561.4,275.0 L562.8,281.0 L566.1,275.5 L569.9,270.3 L574.2,263.3" stroke-width="3.3"/>
<path d="M555.0,512.7 L556.1,515.1 L556.1,525.1" stroke-width="3.3"/>
<path d="M555.5,542.3 L554.4,552.2 L553.4,564.7 L552.6,568.6" stroke-width="3.3"/>
<path d="M587.4,530.5 L579.2,530.5 L579.4,545.9 L580.3,559.1" stroke-width="3.3"/>
<path d="M579.4,545.0 L591.0,545.5" stroke-width="3.3"/>
<path d="M601.5,537.5 L614.5,555.3" stroke-width="3.3"/>
<path d="M616.1,539.6 L600.4,550.1" stroke-width="3.3"/>
<path d="M737.7,308.5 L737.4,324.0" stroke-width="3.3"/>
<path d="M758.4,327.0 L758.4,322.0 L767.7,322.3 L768.0,323.1 L767.3,329.5 L765.5,333.8 L765.5,338.8 L764.8,340.6" stroke-width="3.3"/>
<path d="M757.2,441.9 L765.2,442.4" stroke-width="3.3"/>
<path d="M881.3,429.8 L874.8,443.2" stroke-width="3.3"/>
<path d="M901.5,443.1 L910.0,443.3" stroke-width="3.3"/>
<path d="M916.3,323.2 L915.4,337.6" stroke-width="3.3"/>
<path d="M958.3,330.5 L969.6,330.5" stroke-width="3.3"/>
<path d="M965.5,325.9 L965.5,334.9" stroke-width="3.3"/>
<path d="M924.4,485.2 L924.4,496.3" stroke-width="3.3"/>
<path d="M961.5,494.5 L974.5,494.5" stroke-width="3.3"/>
</g>
<rect x="371.5" y="310.5" width="100" height="198" fill="none" stroke="#ed1c24" stroke-width="1"/>
</svg></body></html>
